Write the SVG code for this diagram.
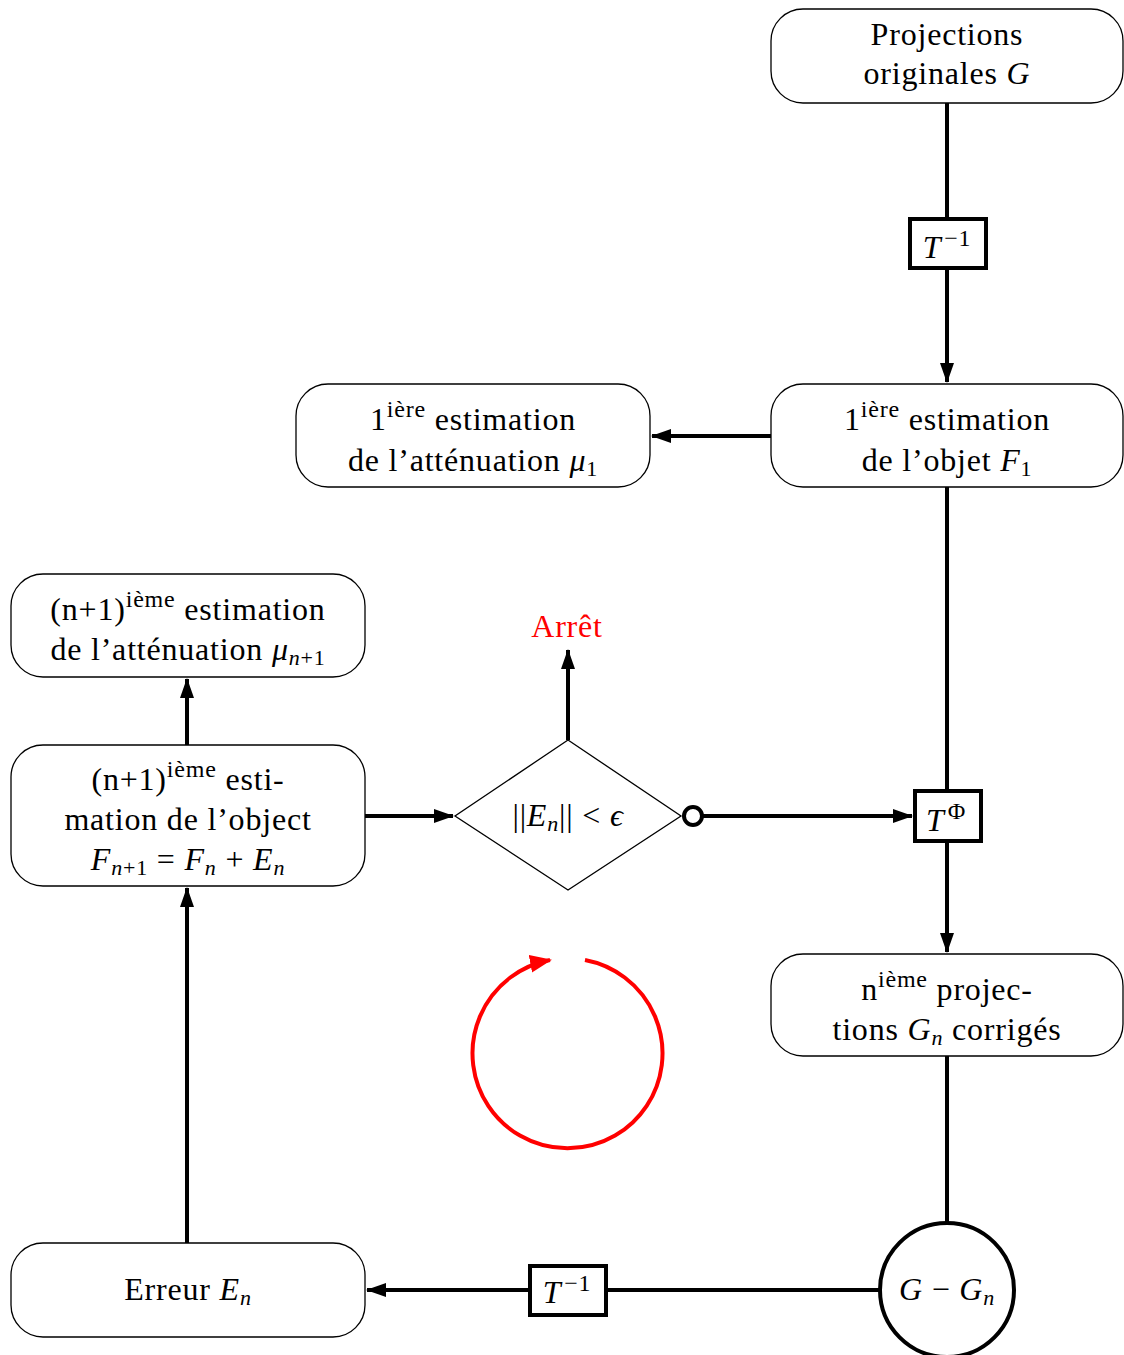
<svg xmlns="http://www.w3.org/2000/svg" width="1124" height="1355" viewBox="0 0 1124 1355">
<defs>
<style>
text{font-family:"Liberation Serif","DejaVu Serif",serif;font-size:32px;letter-spacing:0.8px;fill:#000;text-anchor:middle}
.box{fill:#fff;stroke:#000;stroke-width:1.3}
.op{fill:#fff;stroke:#000;stroke-width:4}
.w{stroke:#000;stroke-width:4;fill:none}
.i{font-style:italic}
.sup{font-size:24px}
.sub{font-size:22px}
</style>
<marker id="ah" markerUnits="userSpaceOnUse" markerWidth="20" markerHeight="14" refX="19" refY="7" orient="auto">
<path d="M0,0 L20,7 L0,14 z" fill="#000"/>
</marker>
<marker id="ahr" markerUnits="userSpaceOnUse" markerWidth="24" markerHeight="20" refX="20" refY="10" orient="auto">
<path d="M0,1 L22,10 L0,19 z" fill="#f00"/>
</marker>
</defs>

<g id="connectors">
<path class="w" d="M947,103 V218"/>
<path class="w" d="M947,268 V382" marker-end="url(#ah)"/>
<path class="w" d="M771,436 H652" marker-end="url(#ah)"/>
<path class="w" d="M947,487 V790"/>
<path class="w" d="M947,841 V952" marker-end="url(#ah)"/>
<path class="w" d="M947,1056 V1222"/>
<path class="w" d="M880,1290 H606"/>
<path class="w" d="M529,1290 H367" marker-end="url(#ah)"/>
<path class="w" d="M187,1243 V888" marker-end="url(#ah)"/>
<path class="w" d="M187,745 V679" marker-end="url(#ah)"/>
<path class="w" d="M365,816 H453" marker-end="url(#ah)"/>
<path class="w" d="M568,740 V650" marker-end="url(#ah)"/>
<path class="w" d="M702,816 H912" marker-end="url(#ah)"/>
<circle cx="693" cy="816" r="9" fill="#fff" stroke="#000" stroke-width="4"/>
<path d="M585,960 A95,95 0 1 1 550,960" fill="none" stroke="#f00" stroke-width="4" marker-end="url(#ahr)"/>
</g>

<g id="n-projections">
<rect class="box" x="771" y="9" width="352" height="94" rx="32"/>
<text x="947" y="45">Projections</text>
<text x="947" y="84">originales <tspan class="i">G</tspan></text>
</g>

<g id="n-tinv1">
<rect class="op" x="910" y="219" width="76" height="49"/>
<text x="947" y="258"><tspan class="i">T</tspan><tspan class="sup" dx="3" dy="-12">−1</tspan></text>
</g>

<g id="n-f1">
<rect class="box" x="771" y="384" width="352" height="103" rx="32"/>
<text x="947" y="430">1<tspan class="sup" dy="-13">ière</tspan><tspan dy="13"> estimation</tspan></text>
<text x="947" y="471">de l’objet <tspan class="i">F</tspan><tspan class="sub" dy="5">1</tspan></text>
</g>

<g id="n-mu1">
<rect class="box" x="296" y="384" width="354" height="103" rx="32"/>
<text x="473" y="430">1<tspan class="sup" dy="-13">ière</tspan><tspan dy="13"> estimation</tspan></text>
<text x="473" y="471">de l’atténuation <tspan class="i">μ</tspan><tspan class="sub" dy="5">1</tspan></text>
</g>

<g id="n-mun1">
<rect class="box" x="11" y="574" width="354" height="103" rx="32"/>
<text x="188" y="620">(n+1)<tspan class="sup" dy="-13">ième</tspan><tspan dy="13"> estimation</tspan></text>
<text x="188" y="660">de l’atténuation <tspan class="i">μ</tspan><tspan class="sub i" dy="5">n</tspan><tspan class="sub">+1</tspan></text>
</g>

<g id="n-fn1">
<rect class="box" x="11" y="745" width="354" height="141" rx="32"/>
<text x="188" y="790">(n+1)<tspan class="sup" dy="-13">ième</tspan><tspan dy="13"> esti-</tspan></text>
<text x="188" y="830">mation de l’object</text>
<text x="188" y="870"><tspan class="i">F</tspan><tspan class="sub i" dy="5">n</tspan><tspan class="sub">+1</tspan><tspan dy="-5"> = </tspan><tspan class="i">F</tspan><tspan class="sub i" dy="5">n</tspan><tspan dy="-5"> + </tspan><tspan class="i">E</tspan><tspan class="sub i" dy="5">n</tspan></text>
</g>

<g id="n-test">
<path d="M568,740 L681,816 L568,890 L455,816 Z" fill="#fff" stroke="#000" stroke-width="1.3"/>
<text x="568" y="826">||<tspan class="i">E</tspan><tspan class="sub i" dy="5">n</tspan><tspan dy="-5">|| &lt; </tspan><tspan class="i">ϵ</tspan></text>
</g>

<g id="n-arret">
<text x="567" y="637" style="fill:#f00">Arrêt</text>
</g>

<g id="n-tphi">
<rect class="op" x="915" y="791" width="66" height="50"/>
<text x="946" y="831"><tspan class="i">T</tspan><tspan class="sup" dx="3" dy="-12">Φ</tspan></text>
</g>

<g id="n-gn">
<rect class="box" x="771" y="954" width="352" height="102" rx="32"/>
<text x="947" y="1000">n<tspan class="sup" dy="-13">ième</tspan><tspan dy="13"> projec-</tspan></text>
<text x="947" y="1040">tions <tspan class="i">G</tspan><tspan class="sub i" dy="5">n</tspan><tspan dy="-5"> corrigés</tspan></text>
</g>

<g id="n-diff">
<circle class="op" cx="947" cy="1290" r="67"/>
<text x="947" y="1300"><tspan class="i">G</tspan> − <tspan class="i">G</tspan><tspan class="sub i" dy="5">n</tspan></text>
</g>

<g id="n-tinv2">
<rect class="op" x="530" y="1266" width="76" height="49"/>
<text x="567" y="1303"><tspan class="i">T</tspan><tspan class="sup" dx="3" dy="-12">−1</tspan></text>
</g>

<g id="n-erreur">
<rect class="box" x="11" y="1243" width="354" height="94" rx="32"/>
<text x="188" y="1300">Erreur <tspan class="i">E</tspan><tspan class="sub i" dy="5">n</tspan></text>
</g>
</svg>
